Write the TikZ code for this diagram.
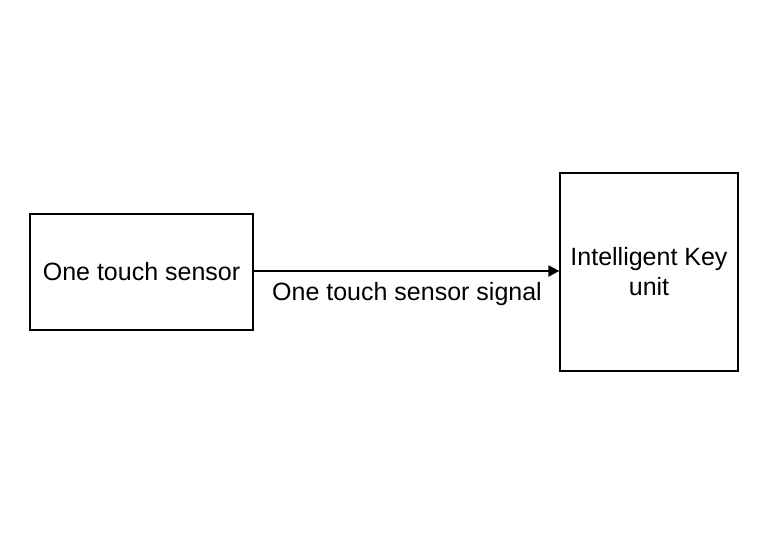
\documentclass[tikz,border=0pt]{standalone}
\usepackage{fontspec}
\setmainfont{Liberation Sans}
\usetikzlibrary{arrows.meta}
\begin{document}
\begin{tikzpicture}[x=1pt,y=-1pt,
  blk/.style={draw=black,line width=1.3pt,inner sep=0pt,align=center,font=\fontsize{25}{30}\selectfont},
  lbl/.style={inner sep=0pt,font=\fontsize{25}{30}\selectfont}]
\useasboundingbox (0,0) rectangle (768,544);
\fill[white] (0,0) rectangle (768,544);
\node[blk,minimum width=223pt,minimum height=116pt] (s) at (141.5,272) {One touch sensor};
\node[blk,minimum width=178pt,minimum height=198pt] (k) at (649,272) {Intelligent Key\\unit};
\draw[line width=2.2pt,-{Triangle[length=11pt,width=11pt]}] (s.east|-0,271) -- (k.west|-0,271);
\node[lbl] (t) at (407,294) {One touch sensor signal};
\end{tikzpicture}
\end{document}
